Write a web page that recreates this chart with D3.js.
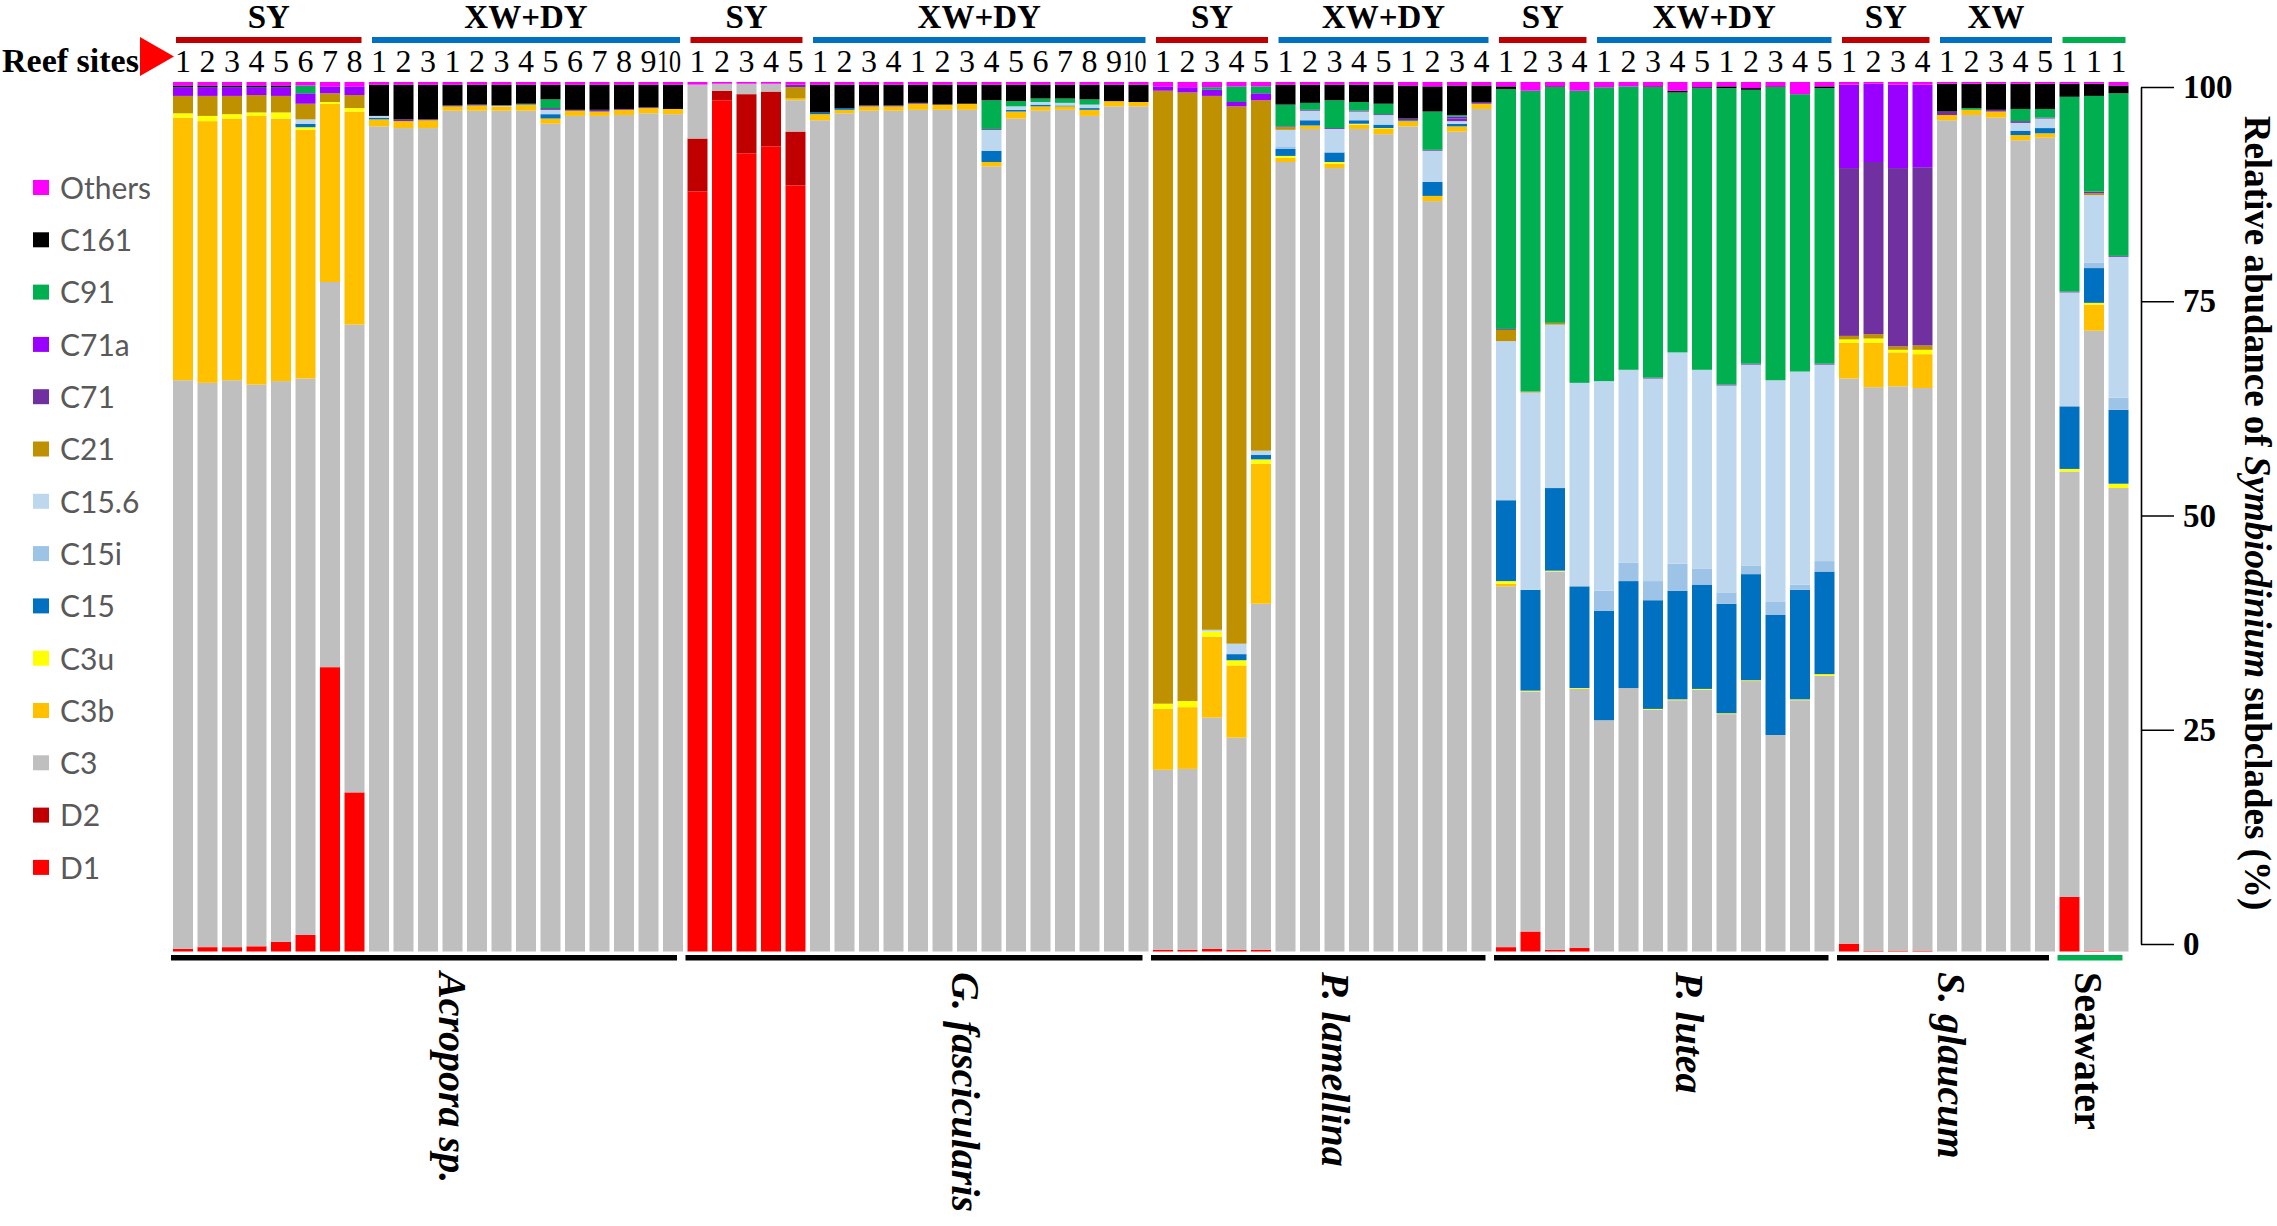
<!DOCTYPE html>
<html><head><meta charset="utf-8">
<script src="https://cdn.jsdelivr.net/npm/d3@7"></script>
<style>html,body{margin:0;padding:0;background:#fff;} svg{display:block}</style>
</head><body>
<svg id="chart" width="2277" height="1226"></svg>
<script>
// ---------------- DATA ----------------
const subclades = ["D1","D2","C3","C3b","C3u","C15","C15i","C15.6","C21","C71","C71a","C91","C161","Others"];
const colors    = ["#ff0000","#c00000","#bfbfbf","#ffc000","#ffff00","#0070c0","#9dc3e6","#bdd7ee","#bf9000","#7030a0","#9900ff","#00b050","#000000","#ff00ff"];

const species       = ["Acropora sp.","G. fascicularis","P. lamellina","P. lutea","S. glaucum","Seawater"];
const speciesCounts = [21,19,14,14,9,3];
const speciesItalic = [true,true,true,true,true,false];

const siteLabels = ["SY","XW+DY","SY","XW+DY","SY","XW+DY","SY","XW+DY","SY","XW",""];
const siteCounts = [8,13,5,14,5,9,4,10,4,5,3];
const siteColors = ["#c00000","#0070c0","#c00000","#0070c0","#c00000","#0070c0","#c00000","#0070c0","#c00000","#0070c0","#00b050"];

const sampleLabels = [
  "1","2","3","4","5","6","7","8", "1","2","3", "1","2","3","4","5","6","7","8","9","10",
  "1","2","3","4","5", "1","2","3","4", "1","2","3","4","5","6","7","8","9","10",
  "1","2","3","4","5", "1","2","3","4","5", "1","2","3","4",
  "1","2","3","4", "1","2","3","4","5", "1","2","3","4","5",
  "1","2","3","4", "1","2","3","4","5",
  "1","1","1"];

const yTicks = [0,25,50,75,100];

// series values (% relative abundance), per sample in the order above
const D1 = [
 0.3,0.5,0.5,0.6,1.1,1.9,32.7,18.3, 0,0,0, 0,0,0,0,0,0,0,0,0,0,
 87.4,97.9,91.8,92.6,88.1, 0,0,0,0, 0,0,0,0,0,0,0,0,0,0,
 0.2,0.2,0.3,0.2,0.2, 0,0,0,0,0, 0,0,0,0,
 0.5,2.3,0.2,0.4, 0,0,0,0,0, 0,0,0,0,0,
 0.9,0.1,0.1,0.1, 0,0,0,0,0,
 6.3,0.1,0];
const D2 = [
 0,0,0,0,0,0,0,0, 0,0,0, 0,0,0,0,0,0,0,0,0,0,
 6.1,1.1,6.8,6.3,6.2, 0,0,0,0, 0,0,0,0,0,0,0,0,0,0,
 0,0,0,0,0, 0,0,0,0,0, 0,0,0,0,
 0,0,0,0, 0,0,0,0,0, 0,0,0,0,0,
 0,0,0,0, 0,0,0,0,0,
 0,0,0];
const C3 = [
 65.4,64.9,65.2,64.6,64.5,64.0,44.3,53.8, 94.9,94.7,94.7, 96.7,96.7,96.7,96.7,95.2,96.1,96.1,96.2,96.4,96.3,
 6.2,0.8,1.2,0.9,3.6, 95.6,96.4,96.7,96.7, 96.8,96.8,96.8,90.3,95.8,96.7,96.8,96.1,97.2,97.2,
 20.7,20.8,26.6,24.4,39.8, 90.8,94.6,90.1,94.6,94.0, 94.9,86.3,94.3,96.9,
 41.5,27.6,43.5,29.8, 26.6,30.3,27.8,28.9,30.1, 27.3,31.1,24.9,28.9,31.7,
 65.0,64.8,64.9,64.7, 95.6,96.2,95.9,93.3,93.6,
 48.9,71.3,53.3];
const C3b = [
 30.2,30.1,30.1,30.9,30.2,28.6,20.5,24.5, 0.8,0.8,0.9, 0.5,0.6,0.5,0.7,0.6,0.6,0.5,0.6,0.6,0.6,
 0,0,0,0,0.2, 0.7,0.4,0.5,0.5, 0.7,0.6,0.7,0.5,0.8,0.5,0.4,0.7,0.6,0.5,
 7.0,7.1,9.3,8.3,16.1, 0.5,0.4,0.5,0.5,0.6, 0.6,0.6,0.6,0.6,
 0.3,0,0,0, 0,0,0,0,0, 0,0,0,0,0,
 4.1,5.1,3.9,3.9, 0.6,0.6,0.7,0.6,0.5,
 0,3.0,0];
const C3u = [
 0.5,0.6,0.5,0.4,0.7,0.3,0.2,0.4, 0,0,0, 0,0,0,0,0,0,0,0,0,0,
 0,0,0,0,0, 0,0,0,0, 0,0,0,0,0,0,0,0,0,0,
 0.6,0.7,0.6,0.6,0.5, 0.2,0,0.2,0.1,0.1, 0,0,0,0,
 0.3,0.1,0.1,0.1, 0,0,0.1,0.1,0.1, 0.1,0.1,0,0.1,0.2,
 0.4,0.5,0.3,0.5, 0,0,0,0,0,
 0.3,0.2,0.5];
const C15 = [
 0,0,0,0,0,0.4,0,0, 0.2,0,0, 0,0,0,0.1,0.5,0,0,0,0,0,
 0,0,0,0,0, 0.2,0.2,0,0, 0,0,0,1.3,0.2,0.2,0.1,0.2,0,0,
 0,0,0,0.7,0.5, 0.8,0.6,1.1,0.4,0.4, 0.1,1.6,0.3,0,
 9.3,11.6,9.5,11.7, 12.6,12.3,12.5,12.5,12.0, 12.6,12.2,13.8,12.6,11.8,
 0,0,0,0, 0,0,0,0.5,0.6,
 7.2,4.0,8.5];
const C15i = [
 0,0,0,0,0,0,0,0, 0,0,0, 0,0,0,0,0,0,0,0,0,0,
 0,0,0,0,0, 0,0,0,0, 0,0,0,0,0,0,0,0,0,0,
 0,0,0,0,0, 0.3,0,0,0,0, 0,0,0,0,
 0,0,0,0, 2.3,2.1,2.2,3.1,1.8, 1.3,1.0,1.5,0.6,1.2,
 0,0,0,0, 0,0,0,0,0,
 0,0.6,1.4];
const C15_6 = [
 0,0,0,0,0,0.5,0,0, 0.2,0,0, 0,0,0.1,0,0.5,0,0,0,0,0,
 0,0,0,0,0, 0,0,0,0, 0,0,0,2.4,0.4,0.3,0.3,0.4,0,0,
 0,0,0.2,1.2,0.5, 1.9,1.1,2.7,1.0,1.1, 0,3.6,0.3,0,
 18.3,22.7,18.8,23.4, 24.1,22.2,23.3,24.3,22.9, 23.8,23.1,25.5,24.5,22.6,
 0,0,0,0, 0,0,0,0.9,1.1,
 13.1,7.8,16.2];
const C21 = [
 2.0,2.3,2.1,2.0,1.9,1.8,1.0,1.5, 0,0,0, 0,0,0,0,0,0,0,0,0,0,
 0,0,0,0,1.3, 0,0,0,0, 0,0,0,0,0,0,0,0,0,0,
 70.5,70.0,61.4,61.8,40.3, 0.3,0,0,0,0, 0,0,0,0,
 1.3,0.1,0.2,0, 0,0,0,0,0, 0,0,0,0,0,
 0.4,0.5,0.4,0.5, 0,0,0,0,0,
 0,0.2,0];
const C71 = [
 0,0,0,0,0,0,0,0, 0,0.2,0.1, 0.1,0.1,0,0,0.2,0.1,0.2,0.1,0.1,0,
 0,0,0,0,0.3, 0,0,0.1,0.1, 0.1,0,0,0.1,0,0,0,0,0,0,
 0,0,0,0,0, 0.1,0.1,0.1,0.1,0.1, 0.2,0.1,0.3,0.2,
 0.1,0,0,0, 0,0,0.1,0,0, 0.1,0.1,0,0,0.1,
 19.3,19.8,20.5,20.5, 0.4,0,0.2,0.2,0.1,
 0.1,0.2,0.1];
const C71a = [
 1.0,1.0,1.0,0.9,1.0,1.2,0.8,1.0, 0,0,0, 0,0,0,0,0,0,0,0,0,0,
 0,0,0,0,0, 0,0,0,0, 0,0,0,0,0,0,0,0,0,0,
 0.5,0.6,0.7,0.5,0.8, 0,0,0,0,0, 0,0,0.2,0,
 0,0,0,0, 0,0,0,0,0, 0,0,0,0,0,
 9.6,9.0,9.6,9.5, 0,0,0,0,0,
 0,0,0];
const C91 = [
 0,0,0,0,0,0.9,0,0, 0,0,0, 0,0,0,0,1.0,0,0,0,0,0,
 0,0,0,0,0, 0,0,0,0, 0,0,0,3.3,0.6,0.4,0.5,0.6,0,0,
 0,0,0.3,1.8,0.8, 2.5,0.8,3.2,1.0,1.2, 0,4.4,0.2,0,
 27.6,34.6,27.1,33.6, 33.8,32.6,33.4,29.9,32.4, 34.1,31.5,33.7,31.9,31.7,
 0,0,0,0, 0,0.2,0,1.4,1.0,
 22.4,11.0,18.7];
const C161 = [
 0.2,0.2,0.2,0.2,0.2,0,0,0, 3.6,4.0,4.0, 2.4,2.3,2.4,2.2,1.7,2.9,2.9,2.8,2.6,2.8,
 0,0,0,0,0, 3.2,2.7,2.4,2.4, 2.1,2.3,2.2,1.8,1.9,1.6,1.6,1.7,1.9,2.0,
 0,0,0,0,0, 2.3,2.1,1.8,2.0,2.2, 3.8,2.9,3.4,1.9,
 0.3,0,0.1,0, 0,0,0.1,0.2,0.1, 0.2,0.2,0.1,0,0.2,
 0,0,0,0, 3.2,2.8,3.0,2.9,2.9,
 1.5,1.4,0.9];
const Others = [
 0.4,0.4,0.4,0.4,0.4,0.4,0.5,0.5, 0.3,0.3,0.3, 0.3,0.3,0.3,0.3,0.3,0.3,0.3,0.3,0.3,0.3,
 0.3,0.2,0.2,0.2,0.3, 0.3,0.3,0.3,0.3, 0.3,0.3,0.3,0.3,0.3,0.3,0.3,0.3,0.3,0.3,
 0.5,0.6,0.6,0.5,0.5, 0.3,0.3,0.3,0.3,0.3, 0.4,0.5,0.4,0.4,
 0.5,1.0,0.5,1.0, 0.6,0.5,0.5,1.0,0.6, 0.5,0.7,0.5,1.4,0.5,
 0.3,0.2,0.3,0.3, 0.2,0.2,0.2,0.2,0.2,
 0.2,0.2,0.4];

// ---------------- LAYOUT ----------------
const serif = "'Liberation Serif','Times New Roman',serif";
const svg = d3.select("#chart");
svg.append("rect").attr("width",2277).attr("height",1226).attr("fill","#fff");

const x = d3.scaleBand().domain(d3.range(sampleLabels.length))
  .range([170.75, 2130.75]).paddingInner(0.184).paddingOuter(0.092);
const y = d3.scaleLinear().domain([0,1]).range([951.5, 82]);
const yAxisScale = d3.scaleLinear().domain([0,100]).range([944, 87]);
const color = d3.scaleOrdinal().domain(subclades).range(colors);

const series = [D1,D2,C3,C3b,C3u,C15,C15i,C15_6,C21,C71,C71a,C91,C161,Others];
const rows = sampleLabels.map((lab,i)=>{
  const o = {idx:i};
  subclades.forEach((k,j)=>{ o[k] = series[j][i] || 0; });
  return o;
});
const stacked = d3.stack().keys(subclades).offset(d3.stackOffsetExpand)(rows);

// bars
svg.append("g").selectAll("g").data(stacked).join("g")
  .attr("fill", d=>color(d.key))
  .selectAll("rect").data(d=>d.filter(s=>s[1]-s[0]>0)).join("rect")
  .attr("x", d=>x(d.data.idx))
  .attr("y", d=>y(d[1]))
  .attr("width", x.bandwidth())
  .attr("height", d=>y(d[0])-y(d[1]));

// sample numbers
svg.append("g").selectAll("text").data(sampleLabels).join("text")
  .attr("x",(d,i)=>x(i)+x.bandwidth()/2 - (d.length>1 ? 4 : 0)).attr("y",72)
  .attr("text-anchor","middle").attr("font-family",serif).attr("font-size",32)
  .each(function(d){ if (d.length>1) d3.select(this).attr("textLength",24).attr("lengthAdjust","spacingAndGlyphs"); })
  .text(d=>d);

// reef site groups (top)
{
  let start = 0;
  siteCounts.forEach((c,k)=>{
    const x0 = x(start)+3, x1 = x(start+c-1)+x.bandwidth()-3;
    svg.append("rect").attr("x",x0).attr("y",37).attr("width",x1-x0).attr("height",6).attr("fill",siteColors[k]);
    if (siteLabels[k]) svg.append("text").attr("x",(x0+x1)/2).attr("y",28)
      .attr("text-anchor","middle").attr("font-family",serif).attr("font-weight","bold")
      .attr("font-size",33).text(siteLabels[k]);
    start += c;
  });
}

// "Reef sites" + arrow
svg.append("text").attr("x",2).attr("y",72).attr("font-family",serif).attr("font-weight","bold")
  .attr("font-size",34).text("Reef sites");
svg.append("path").attr("d","M140,37 L140,76 L174,56.5 Z").attr("fill","#ff0000");

// species groups (bottom)
const labelNudge = [24,47,13,24,4,-6];
{
  let start = 0;
  speciesCounts.forEach((c,k)=>{
    const x0 = x(start)-2, x1 = x(start+c-1)+x.bandwidth()-6;
    const isSea = !speciesItalic[k];
    svg.append("rect").attr("x",x0).attr("y",955).attr("width",x1-x0).attr("height",5.5)
      .attr("fill", isSea ? "#00b050" : "#000");
    const cx = (x(start)+x(start+c-1)+x.bandwidth())/2 + labelNudge[k];
    svg.append("text").attr("transform",`translate(${cx-13},972) rotate(90)`)
      .attr("font-family",serif).attr("font-weight","bold")
      .attr("font-style", speciesItalic[k] ? "italic" : "normal")
      .attr("font-size",40).text(species[k]);
    start += c;
  });
}

// right axis
const axisG = svg.append("g").attr("transform","translate(2141,0)")
  .call(d3.axisRight(yAxisScale).tickValues(yTicks).tickSize(33).tickSizeOuter(0).tickPadding(9));
axisG.attr("font-family",serif).attr("font-size",33).attr("font-weight","bold");
axisG.selectAll("line,path").attr("stroke","#000").attr("stroke-width",1.6);
axisG.selectAll("text").attr("fill","#000");

// axis title
const title = svg.append("text").attr("transform","translate(2245,513) rotate(90)")
  .attr("text-anchor","middle").attr("font-family",serif).attr("font-weight","bold").attr("font-size",37);
title.append("tspan").text("Relative abudance of ");
title.append("tspan").attr("font-style","italic").text("Symbiodinium");
title.append("tspan").text(" subclades (%)");

// legend
const legendKeys = subclades.slice().reverse();
const lg = svg.append("g").selectAll("g").data(legendKeys).join("g")
  .attr("transform",(d,i)=>`translate(0,${188+52.3*i})`);
lg.append("rect").attr("x",33).attr("y",-8).attr("width",16).attr("height",15).attr("fill",d=>color(d));
lg.append("text").attr("x",60).attr("y",0).attr("dy","0.36em")
  .attr("font-family","Lato,'Open Sans',sans-serif").attr("font-size",30).attr("fill","#595959")
  .text(d=>d);
</script>
</body></html>
